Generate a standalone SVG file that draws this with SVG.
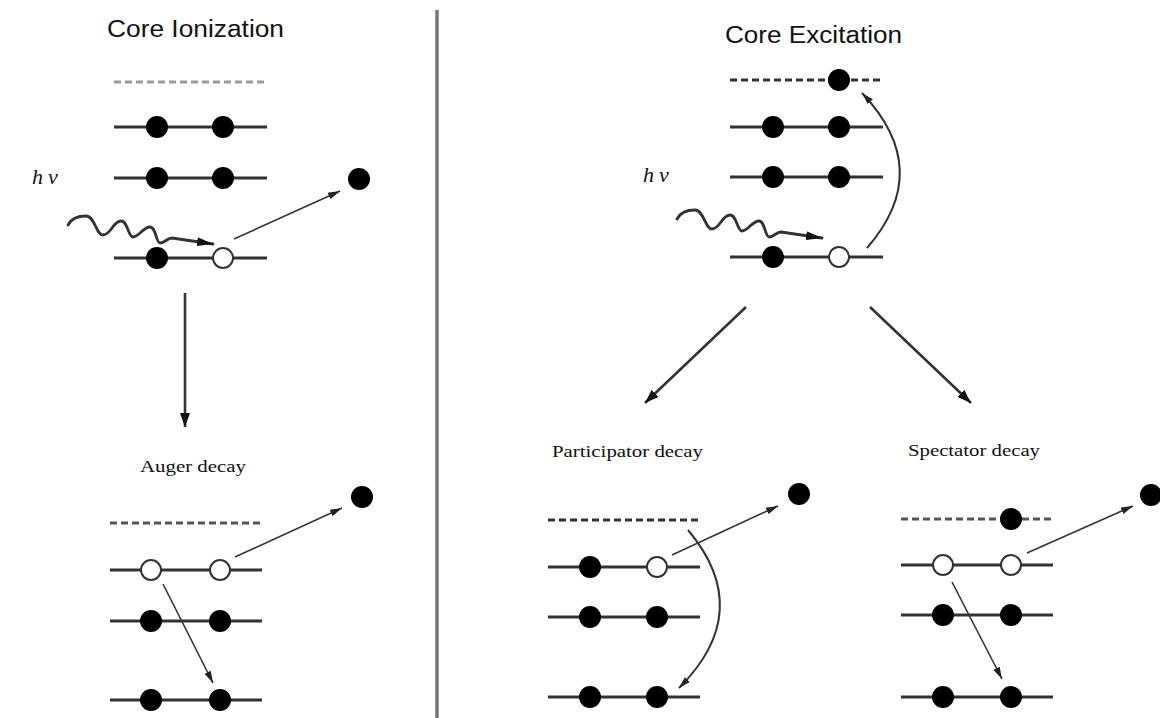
<svg xmlns="http://www.w3.org/2000/svg" width="1160" height="718" viewBox="0 0 1160 718">
<defs>
<style>
.lvl{stroke:#333;stroke-width:3;fill:none}
.dash{stroke:#333;stroke-width:3;stroke-dasharray:7 4;fill:none}
.dashl{stroke:#999;stroke-width:3;stroke-dasharray:7 4;fill:none}
.e{fill:#000}
.h{fill:#fff;stroke:#333;stroke-width:2}
.thin{stroke:#333;stroke-width:1.6;fill:none}
.thick{stroke:#333;stroke-width:2.6;fill:none}
.wave{stroke:#333;stroke-width:2.8;fill:none;stroke-linecap:round}
.title{font-family:"Liberation Sans","Open Sans",Arial,sans-serif;font-size:23px;fill:#111}
.lab{font-family:"Liberation Serif","Times New Roman",serif;font-size:16px;fill:#111}
.hv{font-family:"Liberation Serif","Times New Roman",serif;font-style:italic;font-size:22px;letter-spacing:5px;fill:#111}
</style>
<marker id="as" viewBox="0 0 12 8" markerWidth="12" markerHeight="8" refX="12" refY="4" orient="auto" markerUnits="userSpaceOnUse"><path d="M0,0.5 L12,4 L0,7.5 z" fill="#222"/></marker>
<marker id="ab" viewBox="0 0 14 10" markerWidth="14" markerHeight="10" refX="14" refY="5" orient="auto" markerUnits="userSpaceOnUse"><path d="M0,0 L14,5 L0,10 z" fill="#111"/></marker>
<marker id="aw" viewBox="0 0 16 9" markerWidth="16" markerHeight="9" refX="16" refY="4.5" orient="auto" markerUnits="userSpaceOnUse"><path d="M0,0 L16,4.5 L0,9 z" fill="#111"/></marker>
</defs>
<rect width="1160" height="718" fill="#fff"/>
<line x1="437" y1="10" x2="437" y2="718" stroke="#777" stroke-width="3.5"/>

<g id="core-ionization">
<text class="title" x="107" y="37" textLength="177" lengthAdjust="spacingAndGlyphs">Core Ionization</text>
<line class="dashl" x1="114" y1="82" x2="267" y2="82"/>
<line class="lvl" x1="114" y1="127" x2="267" y2="127"/>
<line class="lvl" x1="114" y1="178" x2="267" y2="178"/>
<line class="lvl" x1="114" y1="258" x2="267" y2="258"/>
<circle class="e" cx="157" cy="127" r="11"/><circle class="e" cx="223" cy="127" r="11"/>
<circle class="e" cx="157" cy="178" r="11"/><circle class="e" cx="223" cy="178" r="11"/>
<circle class="e" cx="157" cy="258" r="11"/><circle class="h" cx="223" cy="258" r="10"/>
<circle class="e" cx="359" cy="179" r="11"/>
<text class="hv" x="32" y="184">hν</text>
</g>

<g id="core-excitation">
<text class="title" x="725" y="43" textLength="177" lengthAdjust="spacingAndGlyphs">Core Excitation</text>
<line class="dash" x1="730" y1="80" x2="883" y2="80"/>
<line class="lvl" x1="730" y1="127" x2="883" y2="127"/>
<line class="lvl" x1="730" y1="177" x2="883" y2="177"/>
<line class="lvl" x1="730" y1="257" x2="883" y2="257"/>
<circle class="e" cx="839" cy="80" r="11"/>
<circle class="e" cx="773" cy="127" r="11"/><circle class="e" cx="839" cy="127" r="11"/>
<circle class="e" cx="773" cy="177" r="11"/><circle class="e" cx="839" cy="177" r="11"/>
<circle class="e" cx="773" cy="257" r="11"/><circle class="h" cx="839" cy="257" r="10"/>
<text class="hv" x="643" y="182">hν</text>
</g>

<g id="auger-decay">
<text class="lab" x="140" y="472" textLength="106" lengthAdjust="spacingAndGlyphs">Auger decay</text>
<line class="dash" x1="110" y1="523" x2="262" y2="523" style="stroke:#555"/>
<line class="lvl" x1="110" y1="570" x2="262" y2="570"/>
<line class="lvl" x1="110" y1="621" x2="262" y2="621"/>
<line class="lvl" x1="110" y1="700" x2="262" y2="700"/>
<circle class="h" cx="151" cy="570" r="10"/><circle class="h" cx="220" cy="570" r="10"/>
<circle class="e" cx="151" cy="621" r="11"/><circle class="e" cx="220" cy="621" r="11"/>
<circle class="e" cx="151" cy="700" r="11"/><circle class="e" cx="220" cy="700" r="11"/>
<circle class="e" cx="362" cy="497" r="11"/>
</g>

<g id="participator-decay">
<text class="lab" x="552" y="457" textLength="151" lengthAdjust="spacingAndGlyphs">Participator decay</text>
<line class="dash" x1="548" y1="520" x2="700" y2="520"/>
<line class="lvl" x1="548" y1="567" x2="700" y2="567"/>
<line class="lvl" x1="548" y1="617" x2="700" y2="617"/>
<line class="lvl" x1="548" y1="697" x2="700" y2="697"/>
<circle class="e" cx="590" cy="567" r="11"/><circle class="h" cx="657" cy="567" r="10"/>
<circle class="e" cx="590" cy="617" r="11"/><circle class="e" cx="657" cy="617" r="11"/>
<circle class="e" cx="590" cy="697" r="11"/><circle class="e" cx="657" cy="697" r="11"/>
<circle class="e" cx="799" cy="494" r="11"/>
</g>

<g id="spectator-decay">
<text class="lab" x="908" y="456" textLength="132" lengthAdjust="spacingAndGlyphs">Spectator decay</text>
<line class="dash" x1="901" y1="519" x2="1053" y2="519" style="stroke:#555"/>
<line class="lvl" x1="901" y1="565" x2="1053" y2="565"/>
<line class="lvl" x1="901" y1="615" x2="1053" y2="615"/>
<line class="lvl" x1="901" y1="697" x2="1053" y2="697"/>
<circle class="e" cx="1011" cy="519" r="11"/>
<circle class="h" cx="943" cy="565" r="10"/><circle class="h" cx="1011" cy="565" r="10"/>
<circle class="e" cx="943" cy="615" r="11"/><circle class="e" cx="1011" cy="615" r="11"/>
<circle class="e" cx="943" cy="697" r="11"/><circle class="e" cx="1011" cy="697" r="11"/>
<circle class="e" cx="1151" cy="495" r="11"/>
</g>

<g id="connectors">
<path class="wave" transform="translate(68,223)" marker-end="url(#aw)" d="M0,2 C3,-4 10,-7 18,-7 C27,-7 28,12 35,12 C43,12 45,-2 53,-2 C60,-2 60,14 65,14 C71,14 75,4 82,4 C88,4 88,20 92,20 C97,20 99,15 104,15 L145,21"/>
<path class="wave" transform="translate(677,217)" marker-end="url(#aw)" d="M0,2 C3,-4 10,-7 18,-7 C27,-7 28,12 35,12 C43,12 45,-2 53,-2 C60,-2 60,14 65,14 C71,14 75,4 82,4 C88,4 88,20 92,20 C97,20 99,15 104,15 L145,21"/>
<line class="thin" x1="234" y1="239" x2="340" y2="191" marker-end="url(#as)"/>
<line class="thick" x1="185" y1="293" x2="185" y2="427" marker-end="url(#ab)"/>
<path class="thin" d="M867,248 Q935,170 862,93" marker-end="url(#as)" style="stroke-width:2"/>
<line class="thick" x1="746" y1="307" x2="645" y2="403" marker-end="url(#ab)"/>
<line class="thick" x1="870" y1="307" x2="971" y2="403" marker-end="url(#ab)"/>
<line class="thin" x1="235" y1="557" x2="342" y2="508" marker-end="url(#as)"/>
<line class="thin" x1="163" y1="584" x2="213" y2="683" marker-end="url(#as)"/>
<line class="thin" x1="672" y1="555" x2="778" y2="506" marker-end="url(#as)"/>
<path class="thin" d="M688,530 Q756,611 679,688" marker-end="url(#as)" style="stroke-width:2"/>
<line class="thin" x1="1027" y1="553" x2="1133" y2="506" marker-end="url(#as)"/>
<line class="thin" x1="952" y1="582" x2="1002" y2="679" marker-end="url(#as)"/>
</g>
</svg>
